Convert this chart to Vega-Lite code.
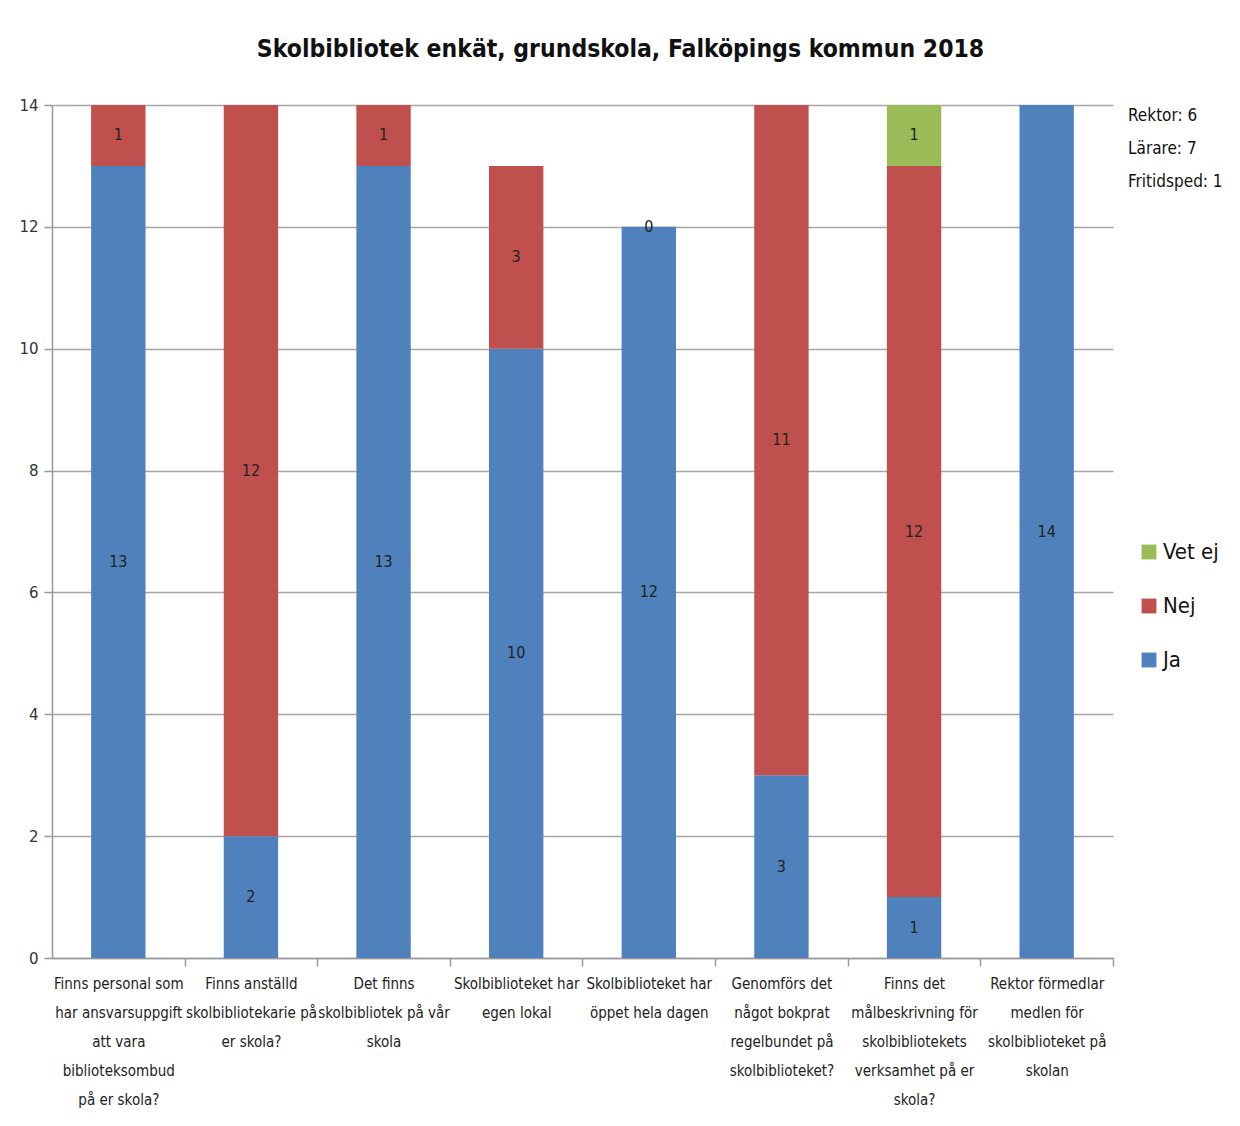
{
  "$schema": "https://vega.github.io/schema/vega-lite/v6.json",
  "autosize": "none",
  "width": 1061,
  "height": 853,
  "padding": {"left": 52, "top": 105, "right": 127, "bottom": 168},
  "background": "white",
  "config": {
    "view": {"stroke": null},
    "font": "DejaVu Sans Condensed, sans-serif"
  },
  "title": {
    "text": "Skolbibliotek enkät, grundskola, Falköpings kommun 2018",
    "fontSize": 24.5,
    "fontWeight": "bold",
    "font": "DejaVu Sans Condensed, sans-serif",
    "color": "#111",
    "anchor": "middle",
    "offset": 36,
    "dx": 38
  },
  "layer": [
    {
      "data": {
        "values": [
          {"q": "Finns personal som\nhar ansvarsuppgift\natt vara\nbiblioteksombud\npå er skola?", "svar": "Ja", "antal": 13, "o": 1},
          {"q": "Finns personal som\nhar ansvarsuppgift\natt vara\nbiblioteksombud\npå er skola?", "svar": "Nej", "antal": 1, "o": 2},
          {"q": "Finns anställd\nskolbibliotekarie på\ner skola?", "svar": "Ja", "antal": 2, "o": 1},
          {"q": "Finns anställd\nskolbibliotekarie på\ner skola?", "svar": "Nej", "antal": 12, "o": 2},
          {"q": "Det finns\nskolbibliotek på vår\nskola", "svar": "Ja", "antal": 13, "o": 1},
          {"q": "Det finns\nskolbibliotek på vår\nskola", "svar": "Nej", "antal": 1, "o": 2},
          {"q": "Skolbiblioteket har\negen lokal", "svar": "Ja", "antal": 10, "o": 1},
          {"q": "Skolbiblioteket har\negen lokal", "svar": "Nej", "antal": 3, "o": 2},
          {"q": "Skolbiblioteket har\nöppet hela dagen", "svar": "Ja", "antal": 12, "o": 1},
          {"q": "Skolbiblioteket har\nöppet hela dagen", "svar": "Nej", "antal": 0, "o": 2},
          {"q": "Genomförs det\nnågot bokprat\nregelbundet på\nskolbiblioteket?", "svar": "Ja", "antal": 3, "o": 1},
          {"q": "Genomförs det\nnågot bokprat\nregelbundet på\nskolbiblioteket?", "svar": "Nej", "antal": 11, "o": 2},
          {"q": "Finns det\nmålbeskrivning för\nskolbibliotekets\nverksamhet på er\nskola?", "svar": "Ja", "antal": 1, "o": 1},
          {"q": "Finns det\nmålbeskrivning för\nskolbibliotekets\nverksamhet på er\nskola?", "svar": "Nej", "antal": 12, "o": 2},
          {"q": "Finns det\nmålbeskrivning för\nskolbibliotekets\nverksamhet på er\nskola?", "svar": "Vet ej", "antal": 1, "o": 3},
          {"q": "Rektor förmedlar\nmedlen för\nskolbiblioteket på\nskolan", "svar": "Ja", "antal": 14, "o": 1}
        ]
      },
      "transform": [
        {"stack": "antal", "groupby": ["q"], "sort": [{"field": "o", "order": "ascending"}], "as": ["y0", "y1"]},
        {"calculate": "(datum.y0 + datum.y1) / 2", "as": "mid"}
      ],
      "layer": [
        {
          "mark": {"type": "bar"},
          "encoding": {
            "x": {
              "field": "q", "type": "nominal", "sort": null,
              "scale": {"paddingInner": 0.59, "paddingOuter": 0.295},
              "axis": {
                "title": null, "labelAngle": 0,
                "labelExpr": "split(datum.label, '\\n')",
                "labelFontSize": 15, "labelLineHeight": 29, "labelColor": "#222",
                "labelFont": "DejaVu Sans Condensed, sans-serif",
                "labelLimit": 0, "labelPadding": 10,
                "tickOffset": 66.3, "labelOffset": -66.3,
                "tickSize": 8, "tickColor": "#999", "tickWidth": 1.5,
                "domainColor": "#999", "domainWidth": 1.5, "grid": false
              }
            },
            "y": {
              "field": "y1", "type": "quantitative",
              "scale": {"domain": [0, 14], "nice": false},
              "axis": {
                "title": null, "values": [0, 2, 4, 6, 8, 10, 12, 14], "format": "d",
                "labelFont": "DejaVu Sans", "labelFontSize": 15, "labelColor": "#333",
                "labelPadding": 6, "tickSize": 8, "tickColor": "#999", "tickWidth": 1.5,
                "domainColor": "#999", "domainWidth": 1.5,
                "grid": true, "gridColor": "#a6a6a6", "gridWidth": 1.5
              }
            },
            "y2": {"field": "y0"},
            "color": {
              "field": "svar", "type": "nominal",
              "scale": {"domain": ["Ja", "Nej", "Vet ej"], "range": ["#4F81BD", "#C0504D", "#9BBB59"]},
              "legend": {
                "title": null, "values": ["Vet ej", "Nej", "Ja"],
                "orient": "none", "legendX": 1086, "legendY": 436,
                "symbolType": "square", "symbolSize": 220, "symbolStrokeWidth": 0,
                "labelFontSize": 22, "labelColor": "#111", "labelOffset": 3,
                "labelFont": "DejaVu Sans Condensed, sans-serif",
                "rowPadding": 32
              }
            }
          }
        },
        {
          "mark": {"type": "text", "fontSize": 16, "color": "#222", "baseline": "middle",
                   "font": "DejaVu Sans Condensed, sans-serif"},
          "encoding": {
            "x": {"field": "q", "type": "nominal", "sort": null},
            "y": {"field": "mid", "type": "quantitative"},
            "text": {"field": "antal", "type": "quantitative"}
          }
        }
      ]
    },
    {
      "data": {"values": [{"info": "Rektor: 6"}, {"info": "Lärare: 7"}, {"info": "Fritidsped: 1"}]},
      "mark": {"type": "point", "opacity": 0},
      "encoding": {
        "shape": {
          "field": "info", "type": "nominal", "sort": null,
          "scale": {"range": ["circle", "circle", "circle"]},
          "legend": {
            "title": null, "orient": "none", "legendX": 1059, "legendY": 2,
            "symbolSize": 0, "symbolOpacity": 0, "symbolStrokeWidth": 0, "labelOffset": 0,
            "labelFontSize": 17, "labelColor": "#111",
            "labelFont": "DejaVu Sans Condensed, sans-serif",
            "rowPadding": 15
          }
        }
      }
    }
  ]
}
